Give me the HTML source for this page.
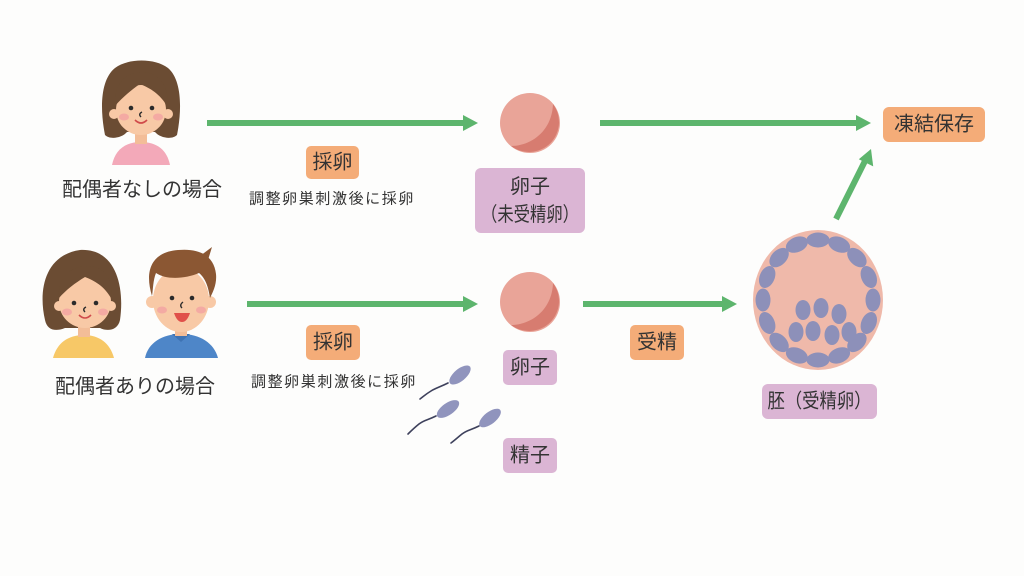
<!DOCTYPE html>
<html>
<head>
<meta charset="utf-8">
<style>
html,body{margin:0;padding:0;background:#fdfdfc;}
svg{display:block;}
text{font-family:"Liberation Sans","Noto Sans CJK JP",sans-serif;fill:#333;}
</style>
</head>
<body>
<svg width="1024" height="576" viewBox="0 0 1024 576" xmlns="http://www.w3.org/2000/svg">
<rect width="1024" height="576" fill="#fdfdfc"/>

<!-- Top woman -->
<g>
  <path d="M105,135 C100,110 100,80 115,68 C128,58 155,58 168,68 C182,80 182,110 177,135 C172,140 160,138 155,132 L127,132 C122,138 110,140 105,135 Z" fill="#6b4c33"/>
  <path d="M112,165 C115,150 125,142 141,142 C157,142 167,150 170,165 Z" fill="#f3a9b9"/>
  <rect x="135" y="128" width="12" height="16" fill="#f3bd98"/>
  <circle cx="114" cy="114" r="5" fill="#f8c9a6"/>
  <circle cx="168" cy="114" r="5" fill="#f8c9a6"/>
  <ellipse cx="141" cy="110" rx="25" ry="25" fill="#f8c9a6"/>
  <path d="M115,106 C113,82 128,72 142,72 C157,72 170,84 167,106 C160,94 150,88 140,84 C131,90 122,98 115,106 Z" fill="#6b4c33"/>
  <circle cx="131" cy="108" r="2.3" fill="#2b2b2b"/>
  <circle cx="152" cy="108" r="2.3" fill="#2b2b2b"/>
  <path d="M142,112 Q138,114 141,117" stroke="#2b2b2b" stroke-width="1.4" fill="none"/>
  <path d="M135,120 Q141,126 147,120" stroke="#d04a4a" stroke-width="1.6" fill="none"/>
  <ellipse cx="124" cy="117" rx="5" ry="3.5" fill="#f3a3a3" opacity="0.8"/>
  <ellipse cx="158" cy="117" rx="5" ry="3.5" fill="#f3a3a3" opacity="0.8"/>
</g>

<!-- Bottom woman -->
<g>
  <path d="M45,320 C38,290 45,255 80,250 C115,248 125,285 120,320 C118,330 108,332 100,328 L65,328 C55,332 47,330 45,320 Z" fill="#6b4c33"/>
  <path d="M53,358 C57,343 68,335 84,335 C99,335 110,343 114,358 Z" fill="#f7c867"/>
  <rect x="78" y="322" width="12" height="15" fill="#f3bd98"/>
  <circle cx="59" cy="306" r="5" fill="#f8c9a6"/>
  <circle cx="111" cy="306" r="5" fill="#f8c9a6"/>
  <ellipse cx="85" cy="302" rx="26" ry="26" fill="#f8c9a6"/>
  <path d="M59,298 C57,276 72,266 88,266 C104,266 114,280 111,298 C104,286 95,281 85,277 C75,283 66,290 59,298 Z" fill="#6b4c33"/>
  <circle cx="74" cy="303" r="2.3" fill="#2b2b2b"/>
  <circle cx="96" cy="303" r="2.3" fill="#2b2b2b"/>
  <path d="M86,307 Q82,309 85,312" stroke="#2b2b2b" stroke-width="1.4" fill="none"/>
  <path d="M79,315 Q85,321 91,315" stroke="#d04a4a" stroke-width="1.6" fill="none"/>
  <ellipse cx="67" cy="312" rx="5" ry="3.5" fill="#f3a3a3" opacity="0.8"/>
  <ellipse cx="103" cy="312" rx="5" ry="3.5" fill="#f3a3a3" opacity="0.8"/>
</g>

<!-- Man -->
<g>
  <path d="M145,358 C148,343 162,334 181,334 C200,334 214,343 218,358 Z" fill="#4e86c8"/>
  <path d="M172,334 L181,342 L190,334 Z" fill="#3f73b3"/>
  <rect x="175" y="324" width="12" height="12" fill="#f3bd98"/>
  <circle cx="152" cy="302" r="6" fill="#f8c9a6"/>
  <circle cx="210" cy="302" r="6" fill="#f8c9a6"/>
  <ellipse cx="181" cy="300" rx="28" ry="32" fill="#f8c9a6"/>
  <path d="M152,296 C144,270 152,252 178,250 C200,248 214,256 216,274 C217,284 213,292 210,298 C208,284 204,277 199,273 C185,279 166,280 156,273 C153,280 153,290 152,296 Z" fill="#8b5733"/>
  <path d="M200,256 L212,247 L208,260 Z" fill="#8b5733"/>
  <circle cx="172" cy="298" r="2.3" fill="#2b2b2b"/>
  <circle cx="192" cy="298" r="2.3" fill="#2b2b2b"/>
  <path d="M183,302 Q179,305 182,308" stroke="#2b2b2b" stroke-width="1.4" fill="none"/>
  <path d="M174,313 Q182,313 190,313 Q187,322 182,322 Q177,322 174,313 Z" fill="#e0504a"/>
  <ellipse cx="162" cy="310" rx="5" ry="3.5" fill="#f3a3a3" opacity="0.8"/>
  <ellipse cx="201" cy="310" rx="5" ry="3.5" fill="#f3a3a3" opacity="0.8"/>
</g>

<!-- Labels left -->
<text x="142" y="190" font-size="20" text-anchor="middle" dominant-baseline="central">配偶者なしの場合</text>
<text x="135" y="387" font-size="20" text-anchor="middle" dominant-baseline="central">配偶者ありの場合</text>

<!-- Arrows -->
<g fill="#5db56d" stroke="#5db56d">
  <line x1="207" y1="123" x2="465" y2="123" stroke-width="6"/>
  <polygon points="463,115 478,123 463,131" stroke="none"/>
  <line x1="600" y1="123" x2="858" y2="123" stroke-width="6"/>
  <polygon points="856,115 871,123 856,131" stroke="none"/>
  <line x1="247" y1="304" x2="465" y2="304" stroke-width="6"/>
  <polygon points="463,296 478,304 463,312" stroke="none"/>
  <line x1="583" y1="304" x2="724" y2="304" stroke-width="6"/>
  <polygon points="722,296 737,304 722,312" stroke="none"/>
  <line x1="836" y1="219" x2="865" y2="161" stroke-width="6"/>
  <polygon points="871,149 873.2,166.4 858.8,159.2" stroke="none"/>
</g>

<!-- Orange boxes -->
<rect x="306" y="146" width="53" height="33" rx="5" fill="#f4ac78"/>
<text x="332.5" y="162.5" font-size="20" text-anchor="middle" dominant-baseline="central">採卵</text>
<rect x="306" y="325" width="54" height="35" rx="5" fill="#f4ac78"/>
<text x="333" y="342.5" font-size="20" text-anchor="middle" dominant-baseline="central">採卵</text>
<rect x="630" y="325" width="54" height="35" rx="5" fill="#f4ac78"/>
<text x="657" y="342.5" font-size="20" text-anchor="middle" dominant-baseline="central">受精</text>
<rect x="883" y="107" width="102" height="35" rx="6" fill="#f4ac78"/>
<text x="934" y="124.5" font-size="20" text-anchor="middle" dominant-baseline="central">凍結保存</text>

<!-- small text -->
<text x="332" y="199" font-size="15" letter-spacing="1.6" text-anchor="middle" dominant-baseline="central">調整卵巣刺激後に採卵</text>
<text x="334" y="382" font-size="15" letter-spacing="1.6" text-anchor="middle" dominant-baseline="central">調整卵巣刺激後に採卵</text>

<!-- Eggs -->
<g>
  <circle cx="530" cy="123" r="30" fill="#e9a498"/>
  <path d="M553,104 A30,30 0 0 1 511,146 C530,146 552,132 553,104 Z" fill="#d77c70"/>
  <circle cx="530" cy="302" r="30" fill="#e9a498"/>
  <path d="M553,283 A30,30 0 0 1 511,325 C530,325 552,311 553,283 Z" fill="#d77c70"/>
</g>

<!-- Purple boxes -->
<rect x="475" y="168" width="110" height="65" rx="6" fill="#dbb5d4"/>
<text x="530" y="187" font-size="20" text-anchor="middle" dominant-baseline="central">卵子</text>
<text x="530" y="215" font-size="20" text-anchor="middle" dominant-baseline="central" textLength="98" lengthAdjust="spacingAndGlyphs">（未受精卵）</text>
<rect x="503" y="350" width="54" height="35" rx="5" fill="#dbb5d4"/>
<text x="530" y="367.5" font-size="20" text-anchor="middle" dominant-baseline="central">卵子</text>
<rect x="503" y="438" width="54" height="35" rx="5" fill="#dbb5d4"/>
<text x="530" y="455.5" font-size="20" text-anchor="middle" dominant-baseline="central">精子</text>
<rect x="762" y="384" width="115" height="35" rx="6" fill="#dbb5d4"/>
<text x="819.5" y="401.5" font-size="20" text-anchor="middle" dominant-baseline="central" textLength="104" lengthAdjust="spacingAndGlyphs">胚（受精卵）</text>

<!-- Sperm -->
<g stroke="#3e415c" stroke-width="1.6" fill="none" stroke-linecap="round">
  <path d="M448,383 C440,387 436,388 431,391 C426,394 424,396 420,399"/>
  <path d="M436,416 C428,420 424,420 419,424 C414,428 411,431 408,434"/>
  <path d="M479,426 C471,430 467,430 462,434 C457,438 455,440 451,443"/>
</g>
<g fill="#9094bd">
  <ellipse cx="460" cy="375" rx="13" ry="6" transform="rotate(-40 460 375)"/>
  <ellipse cx="448" cy="409" rx="13" ry="6" transform="rotate(-35 448 409)"/>
  <ellipse cx="490" cy="418" rx="13" ry="6" transform="rotate(-38 490 418)"/>
</g>

<!-- Embryo -->
<g>
  <ellipse cx="818" cy="300" rx="65" ry="70" fill="#efb9aa"/>
  <g fill="#8d90b9">
    <ellipse cx="818" cy="240" rx="11.5" ry="7.5"/>
    <ellipse cx="839.1" cy="244.6" rx="11.5" ry="7.5" transform="rotate(22.5 839.1 244.6)"/>
    <ellipse cx="856.9" cy="257.6" rx="11.5" ry="7.5" transform="rotate(45 856.9 257.6)"/>
    <ellipse cx="868.8" cy="277" rx="11.5" ry="7.5" transform="rotate(67.5 868.8 277)"/>
    <ellipse cx="873" cy="300" rx="11.5" ry="7.5" transform="rotate(90 873 300)"/>
    <ellipse cx="868.8" cy="323" rx="11.5" ry="7.5" transform="rotate(112.5 868.8 323)"/>
    <ellipse cx="856.9" cy="342.4" rx="11.5" ry="7.5" transform="rotate(135 856.9 342.4)"/>
    <ellipse cx="839.1" cy="355.4" rx="11.5" ry="7.5" transform="rotate(157.5 839.1 355.4)"/>
    <ellipse cx="818" cy="360" rx="11.5" ry="7.5"/>
    <ellipse cx="796.9" cy="355.4" rx="11.5" ry="7.5" transform="rotate(202.5 796.9 355.4)"/>
    <ellipse cx="779.1" cy="342.4" rx="11.5" ry="7.5" transform="rotate(225 779.1 342.4)"/>
    <ellipse cx="767.2" cy="323" rx="11.5" ry="7.5" transform="rotate(247.5 767.2 323)"/>
    <ellipse cx="763" cy="300" rx="11.5" ry="7.5" transform="rotate(270 763 300)"/>
    <ellipse cx="767.2" cy="277" rx="11.5" ry="7.5" transform="rotate(292.5 767.2 277)"/>
    <ellipse cx="779.1" cy="257.6" rx="11.5" ry="7.5" transform="rotate(315 779.1 257.6)"/>
    <ellipse cx="796.9" cy="244.6" rx="11.5" ry="7.5" transform="rotate(337.5 796.9 244.6)"/>
  </g>
  <g fill="#8d90b9">
    <ellipse cx="803" cy="310" rx="7.5" ry="10"/>
    <ellipse cx="821" cy="308" rx="7.5" ry="10"/>
    <ellipse cx="839" cy="314" rx="7.5" ry="10"/>
    <ellipse cx="796" cy="332" rx="7.5" ry="10"/>
    <ellipse cx="813" cy="331" rx="7.5" ry="10"/>
    <ellipse cx="832" cy="335" rx="7.5" ry="10"/>
    <ellipse cx="849" cy="332" rx="7.5" ry="10"/>
  </g>
</g>
</svg>
</body>
</html>
